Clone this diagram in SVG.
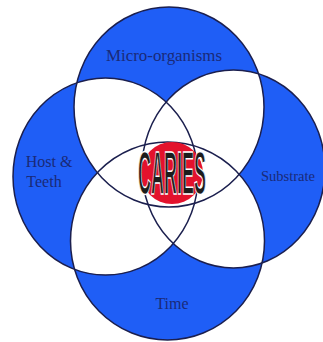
<svg xmlns="http://www.w3.org/2000/svg" width="323" height="342" viewBox="0 0 323 342">
<style>
.blue{fill:#1f5ef6}
.wht{fill:#ffffff}
.ol{fill:none;stroke:#1b1f4e;stroke-width:1.5}
.lbl{font-family:"Liberation Serif","Times New Roman",serif;font-size:16px;fill:#1a2a78;text-anchor:middle}
</style>
<defs>
<ellipse id="eT" cx="169" cy="107" rx="95" ry="100"/>
<ellipse id="eB" cx="167.5" cy="241" rx="97" ry="99"/>
<ellipse id="eL" cx="105.5" cy="176.5" rx="92.5" ry="98.5"/>
<ellipse id="eR" cx="233.5" cy="169" rx="91.5" ry="99"/>
<clipPath id="cT"><use href="#eT"/></clipPath>
<clipPath id="cB"><use href="#eB"/></clipPath>
<clipPath id="cL"><use href="#eL"/></clipPath>
<clipPath id="cR"><use href="#eR"/></clipPath>
</defs>
<rect width="323" height="342" fill="#ffffff"/>
<g id="fills">
<use href="#eT" class="blue"/>
<use href="#eB" class="blue"/>
<use href="#eL" class="blue"/>
<use href="#eR" class="blue"/>
</g>
<g id="overlaps">
<use href="#eT" class="wht" clip-path="url(#cL)"/>
<use href="#eT" class="wht" clip-path="url(#cR)"/>
<use href="#eT" class="wht" clip-path="url(#cB)"/>
<use href="#eB" class="wht" clip-path="url(#cL)"/>
<use href="#eB" class="wht" clip-path="url(#cR)"/>
<use href="#eL" class="wht" clip-path="url(#cR)"/>
</g>
<g id="connectors"></g>
<g id="micro-organisms">
<use href="#eT" class="ol"/>
<text class="lbl" x="164" y="61" textLength="116" lengthAdjust="spacingAndGlyphs">Micro-organisms</text>
</g>
<g id="host-teeth">
<use href="#eL" class="ol"/>
<text class="lbl" x="49" y="167">Host &amp;</text>
<text class="lbl" x="44" y="187">Teeth</text>
</g>
<g id="substrate">
<use href="#eR" class="ol"/>
<text class="lbl" x="288" y="181" style="font-size:14.5px">Substrate</text>
</g>
<g id="time">
<use href="#eB" class="ol"/>
<text class="lbl" x="172" y="309">Time</text>
</g>
<g id="caries">
<ellipse cx="172" cy="173" rx="31" ry="31" fill="#e3122c"/>
<text transform="translate(172,194) scale(0.29,1)" x="0" y="0" font-family="'Liberation Sans',Arial,sans-serif" font-weight="bold" font-size="62" fill="#1c1c1c" text-anchor="middle" stroke="#ffffff" stroke-width="1.5">CARIES</text>
</g>
</svg>
